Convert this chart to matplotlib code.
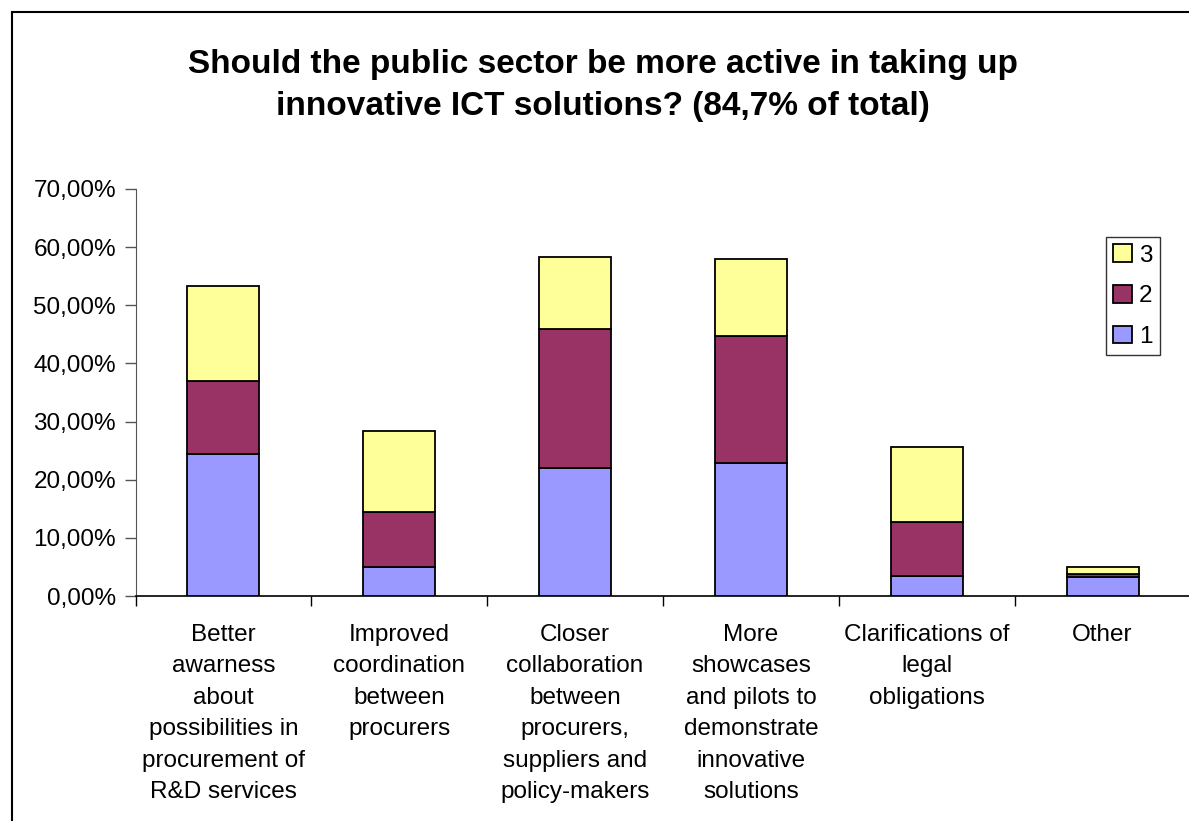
import matplotlib.pyplot as plt
from matplotlib.patches import Rectangle
from matplotlib.ticker import FuncFormatter, FixedLocator
import numpy as np

categories = [
    "Better\nawarness\nabout\npossibilities in\nprocurement of\nR&D services",
    "Improved\ncoordination\nbetween\nprocurers",
    "Closer\ncollaboration\nbetween\nprocurers,\nsuppliers and\npolicy-makers",
    "More\nshowcases\nand pilots to\ndemonstrate\ninnovative\nsolutions",
    "Clarifications of\nlegal\nobligations",
    "Other",
]
rank1 = [24.5, 5.0, 22.0, 22.8, 3.5, 3.2]
rank2 = [12.5, 9.5, 23.9, 21.9, 9.3, 0.5]
rank3 = [16.4, 13.8, 12.4, 13.3, 12.9, 1.3]
series_names = ["1", "2", "3"]
colors = ["#9999FF", "#993366", "#FFFF99"]

plt.rcParams["font.family"] = ["Liberation Sans", "DejaVu Sans"]

W, H = 1189, 821
fig = plt.figure(figsize=(W / 100, H / 100), dpi=100)

# outer chart frame (runs off the right and bottom edges)
fig.patches.append(
    Rectangle((12 / W, -0.1), 1.2, 1 - 12 / H + 0.1, transform=fig.transFigure,
              fill=False, ec="black", lw=1.5, zorder=0)
)

left, right = 135.5, 1190.5
bottom, top = 596, 189
ax = fig.add_axes([left / W, 1 - bottom / H, (right - left) / W, (bottom - top) / H])

x = np.arange(len(categories))
width = 0.41
base = np.zeros(len(categories))
handles = []
for vals, col, name in zip([rank1, rank2, rank3], colors, series_names):
    b = ax.bar(x, vals, width, bottom=base, color=col, edgecolor="black",
               linewidth=1.3, label=name, zorder=3)
    handles.append(b)
    base = base + np.array(vals)

ax.set_xlim(-0.5, len(categories) - 0.5)
ax.set_ylim(0, 70)
ax.set_yticks(np.arange(0, 71, 10))
ax.yaxis.set_major_formatter(FuncFormatter(lambda v, p: f"{v:.2f}%".replace(".", ",")))
ax.tick_params(axis="y", labelsize=17.5, length=8, width=1, pad=6, color="#555555")

ax.set_xticks(x)
ax.set_xticklabels(categories, fontsize=17.5, linespacing=1.56, va="top")
ax.tick_params(axis="x", which="major", length=0, pad=20)
ax.xaxis.set_minor_locator(FixedLocator(np.arange(-0.5, len(categories), 1.0)))
ax.tick_params(axis="x", which="minor", length=7, width=1, color="black")

for s in ["top", "right"]:
    ax.spines[s].set_visible(False)
ax.spines["left"].set_color("#555555")
ax.spines["bottom"].set_color("black")
ax.spines["bottom"].set_linewidth(1.2)

leg = ax.legend(handles[::-1], series_names[::-1], loc="upper left",
                bbox_to_anchor=((1106 - left) / (right - left), (top - 237) / (bottom - top) + 1),
                fontsize=17.5, frameon=True, fancybox=False, edgecolor="black",
                handlelength=0.75, handleheight=0.75, handletextpad=0.3,
                labelspacing=0.75, borderpad=0.3, borderaxespad=0)
leg.get_frame().set_linewidth(1)

fig.text(603 / W, 1 - 64 / H, "Should the public sector be more active in taking up",
         ha="center", va="center", fontsize=24, fontweight="bold")
fig.text(603 / W, 1 - 107 / H, "innovative ICT solutions? (84,7% of total)",
         ha="center", va="center", fontsize=24, fontweight="bold")

fig.savefig("out.png", dpi=100)
